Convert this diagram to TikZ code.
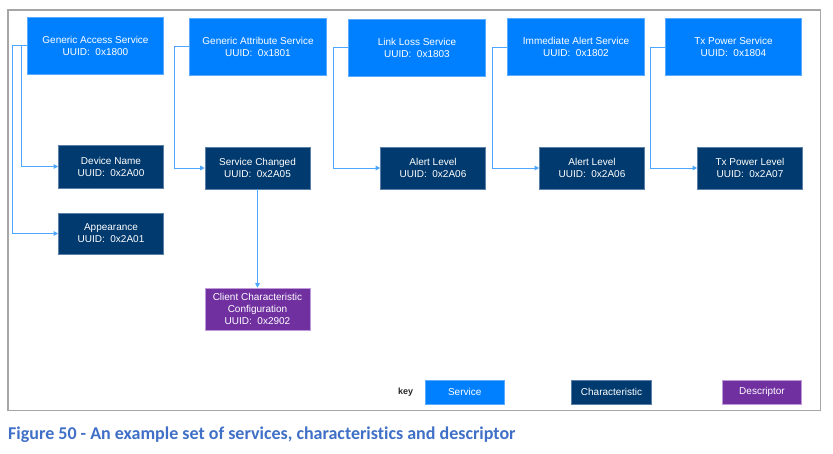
\documentclass[tikz,border=0pt]{standalone}
\usepackage{fontspec}
\setmainfont{Liberation Sans}
\newfontfamily\capfont[Ligatures=NoCommon]{Carlito}
\usetikzlibrary{arrows.meta}
\definecolor{svcblue}{HTML}{0080FF}
\definecolor{svcedge}{HTML}{5AAAFF}
\definecolor{charblue}{HTML}{003A6E}
\definecolor{charedge}{HTML}{5A7FA8}
\definecolor{descpurple}{HTML}{7030A0}
\definecolor{descedge}{HTML}{C09AD8}
\definecolor{connblue}{HTML}{4DA6FF}
\definecolor{framegray}{HTML}{A6A6A6}
\definecolor{capblue}{HTML}{3F6FC6}
\tikzset{
  box/.style={rectangle, inner sep=0pt, align=center, text=white,
    font=\fontsize{10}{12}\selectfont, line width=0.6pt},
  svc/.style={box, fill=svcblue, draw=svcedge, minimum width=136.5pt, minimum height=57pt},
  chr/.style={box, fill=charblue, draw=charedge, minimum width=105pt, minimum height=42pt},
  dsc/.style={box, fill=descpurple, draw=descedge, minimum width=105pt, minimum height=42pt},
  keybox/.style={box, minimum width=79.5pt, minimum height=24pt},
  conn/.style={draw=connblue, line width=0.9pt, -{Triangle[length=4.5pt,width=4.5pt]}},
}
\begin{document}
\begin{tikzpicture}[x=1pt,y=-1pt]
\useasboundingbox (0,0) rectangle (833,453);
\draw[framegray, line width=1.6pt] (8,10) rectangle (820.5,410.5);
% services
\node[svc] (gas) at (95.5,45.7) {Generic Access Service\\UUID:\ \ 0x1800};
\node[svc] (gatt) at (258,46.5) {Generic Attribute Service\\UUID:\ \ 0x1801};
\node[svc] (lls) at (417,47.5) {Link Loss Service\\UUID:\ \ 0x1803};
\node[svc] (ias) at (576,47) {Immediate Alert Service\\UUID:\ \ 0x1802};
\node[svc] (txs) at (733.5,47) {Tx Power Service\\UUID:\ \ 0x1804};
% characteristics
\node[chr, minimum height=43pt] (dn) at (111,166.5) {Device Name\\UUID:\ \ 0x2A00};
\node[chr, minimum height=41pt] (app) at (111,233.5) {Appearance\\UUID:\ \ 0x2A01};
\node[chr] (sc) at (257.5,168) {Service Changed\\UUID:\ \ 0x2A05};
\node[chr] (al1) at (433,168) {Alert Level\\UUID:\ \ 0x2A06};
\node[chr] (al2) at (592,168) {Alert Level\\UUID:\ \ 0x2A06};
\node[chr] (txl) at (750,168) {Tx Power Level\\UUID:\ \ 0x2A07};
% descriptor
\node[dsc] (ccc) at (257.5,309) {Client Characteristic\\Configuration\\UUID:\ \ 0x2902};
% connectors
\draw[conn] (gas.west) -- ++(-6,0) |- (dn.west);
\draw[conn] (gas.west) -- ++(-15,0) |- (app.west);
\draw[conn] (gatt.west) -- ++(-15,0) |- (sc.west);
\draw[conn] (lls.west) -- ++(-15,0) |- (al1.west);
\draw[conn] (ias.west) -- ++(-15,0) |- (al2.west);
\draw[conn] (txs.west) -- ++(-15,0) |- (txl.west);
\draw[conn] (sc.south) -- (ccc.north);
% key
\node[font=\fontsize{9}{11}\selectfont\bfseries, text=black!85, inner sep=0pt] (keylbl) at (405.7,392) {key};
\node[keybox, fill=svcblue, draw=svcedge] (ksvc) at (464.7,392) {Service};
\node[keybox, fill=charblue, draw=charedge] (kchr) at (611.5,392) {Characteristic};
\node[keybox, fill=descpurple, draw=descedge] (kdsc) at (762,392) {Descriptor};
% caption
\node[anchor=base west, inner sep=0pt, text=capblue, font=\capfont\bfseries\fontsize{18}{21}\selectfont] (cap) at (8,439.3) {Figure 50 - An example set of services, characteristics and descriptor};
\end{tikzpicture}
\end{document}
